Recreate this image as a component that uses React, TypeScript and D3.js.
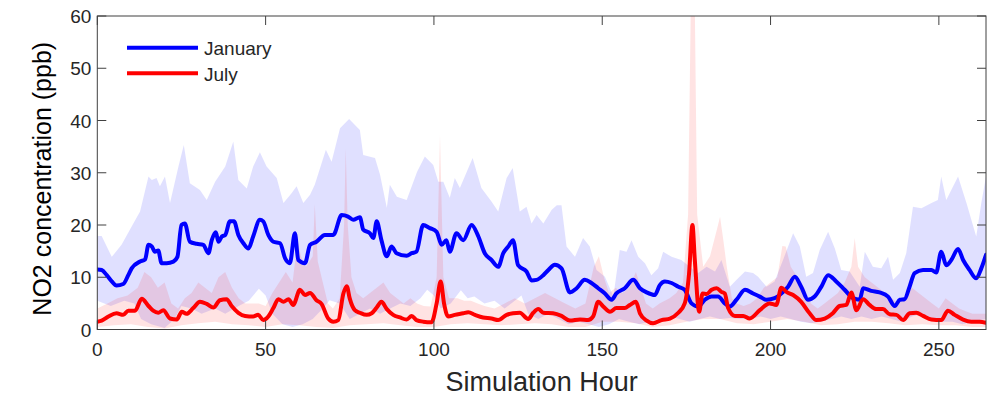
import React from "react";
import * as d3 from "d3";

type P = [number, number];

// [hour, ppb]
const janMean: P[] = [[0,11.5],[1.3,11.4],[2.8,10.4],[4.3,9.2],[5.7,8.4],[7.7,8.7],[9.2,10.4],[10.2,11.7],[12.7,13.0],[14.2,13.4],[15.2,16.2],[16.2,15.9],[17.1,14.9],[18.1,15.1],[19.1,12.7],[20.6,12.7],[22.6,13.0],[23.8,13.9],[25,20.0],[26,20.3],[27.5,16.8],[29.5,16.4],[31.5,16.2],[33,14.6],[34,17.1],[35.2,18.6],[36,16.8],[37,17.8],[38,18.1],[39.4,20.7],[40.6,20.7],[41.9,18.1],[43.4,16.5],[44.9,15.5],[46.3,17.8],[48.3,21.0],[49.3,20.7],[50.8,18.1],[52.3,16.8],[54.3,16.5],[55.8,13.6],[57.2,12.7],[58.7,18.4],[59.7,13.3],[61.7,12.7],[63.2,16.2],[65.1,16.8],[67.6,18.1],[70.1,18.1],[72.6,21.9],[74.5,21.6],[76,21.0],[78,21.5],[79,19.1],[81,18.4],[82,17.5],[83,20.7],[84.4,17.1],[86,14.0],[87.4,15.9],[88.9,14.6],[91.9,14.1],[93.4,14.6],[94.8,14.9],[96.8,20.0],[98.8,19.4],[100.8,18.7],[102.3,16.2],[103.7,17.1],[104.7,14.9],[106.7,18.4],[108.7,17.1],[111.2,20.0],[113.2,17.8],[115.1,14.6],[117.1,13.3],[119.1,12.0],[120.6,14.6],[122.1,15.9],[123.5,17.1],[125,12.3],[127.5,11.1],[129,9.4],[130.5,9.5],[132.5,10.4],[134,11.4],[135.9,12.4],[137.9,11.7],[140.4,7.1],[142.4,7.9],[144.8,9.5],[146.8,8.9],[148.8,7.9],[150.8,6.9],[152.8,5.7],[154.2,6.9],[156.7,7.9],[159.2,9.5],[161.2,7.9],[163.2,7.1],[165.6,6.6],[167.1,8.5],[168.6,9.2],[170.6,8.9],[172.6,8.2],[174.5,7.6],[176.5,5.0],[178.5,4.4],[180.5,5.7],[182.5,6.3],[184.4,6.3],[186.4,5.0],[187.9,4.4],[189.9,5.7],[192.4,7.6],[194.8,6.9],[196.8,6.3],[198.8,5.7],[201.2,6.0],[203.2,6.9],[205.2,8.2],[207.2,10.1],[209.1,8.2],[211.1,5.7],[213.1,6.3],[215.1,8.2],[217.1,10.4],[219.5,9.2],[222,7.6],[224.5,6.0],[226.5,5.7],[227.5,7.9],[229.9,7.4],[232.4,7.1],[234.9,6.3],[236.9,4.5],[238.4,5.7],[239.8,5.8],[241.3,8.2],[242.8,10.8],[245.3,11.4],[247.8,11.4],[249.2,10.9],[250.7,14.9],[252.2,12.3],[253.7,13.3],[255.7,15.4],[257.2,13.3],[259.1,11.4],[261.1,9.8],[262.6,11.7],[264,14.3]];

const julMean: P[] = [[0,1.5],[1.3,1.7],[3.3,2.5],[5.7,3.1],[7.7,2.8],[9.2,3.6],[11.2,3.6],[13.2,5.9],[15.2,4.5],[16.6,3.6],[18.1,3.2],[19.6,3.7],[21.6,2.1],[23.6,1.9],[25.1,3.4],[26.5,3.0],[28.5,4.1],[30.5,5.3],[32.5,4.9],[34.5,4.2],[36.4,5.6],[38.4,5.8],[39.9,4.5],[41.9,3.2],[43.9,2.6],[46.3,2.5],[47.8,2.8],[49.3,1.8],[50.8,2.5],[52.3,4.1],[53.8,5.8],[55.3,5.3],[56.8,5.8],[58.2,4.7],[60.2,7.6],[61.7,6.6],[63.2,7.0],[65.1,5.6],[66.6,4.9],[68.6,2.1],[70.1,1.5],[71.6,1.8],[73.1,6.9],[74.1,8.3],[75,5.9],[76.5,3.7],[78,3.2],[80,2.8],[81.5,3.1],[83,4.2],[84.4,5.3],[86,3.9],[87.9,2.8],[89.9,2.3],[91.9,1.9],[93.4,2.6],[94.8,1.8],[96.8,1.5],[99.3,1.4],[100.8,5.0],[102,9.2],[103,5.0],[104.2,2.5],[106.2,2.8],[108.7,3.1],[110.2,3.3],[112.2,2.8],[114.6,2.3],[117.1,2.1],[119.1,1.8],[121.6,2.8],[123.5,3.1],[125.5,3.2],[128,2.0],[129.5,3.2],[131,3.9],[132.5,3.2],[135.4,3.1],[137.9,2.6],[140.4,1.7],[143.4,1.9],[145.8,1.8],[147.3,2.5],[148.8,5.3],[150.3,4.4],[152.3,3.4],[154.2,4.1],[156.7,4.1],[158.2,4.7],[160,5.3],[161.2,3.1],[163.2,1.7],[165.1,1.2],[167.6,1.8],[170.1,2.1],[172.6,3.2],[174.5,5.0],[175.8,10.8],[176.8,20.0],[177.5,13.3],[178.8,3.4],[179.8,6.9],[181,6.8],[182.5,7.6],[184,7.9],[185.4,7.2],[186.4,6.9],[187.4,4.1],[189.4,2.6],[191.9,2.6],[193.8,2.1],[196.8,3.7],[199.7,5.0],[201.7,4.7],[203.2,8.0],[204.7,7.2],[206.7,6.6],[209.1,5.3],[211.6,3.1],[213.6,1.8],[216.1,2.1],[218.5,3.1],[220.5,4.5],[222.5,4.7],[224,7.1],[225.5,3.7],[227.5,5.8],[229.4,4.7],[231.4,3.9],[233.4,3.9],[235.4,2.9],[237.4,2.8],[239.4,1.8],[241.3,3.1],[243.3,3.2],[245.3,2.6],[247.8,1.9],[250.7,1.8],[252.7,3.6],[254.7,2.8],[257.2,1.9],[259.6,1.5],[262.1,1.5],[264,1.3]];

const janHigh: P[] = [[0,17.9],[1.3,17.9],[4.3,13.9],[7.2,16.2],[10.7,20.3],[12.7,22.6],[15.2,29.3],[16.2,28.6],[17.6,29.0],[18.6,27.4],[20.1,29.3],[21.6,24.2],[24.1,31.2],[25.7,35.3],[27.5,28.0],[30.5,26.7],[32.5,24.8],[35,28.3],[38,31.2],[40.4,36.0],[41.9,28.6],[44.4,27.0],[46.3,31.2],[48.3,33.9],[50.3,31.2],[53.3,29.0],[55.3,24.2],[57.7,26.1],[59.2,27.4],[61.2,24.2],[63.2,25.8],[64.6,27.7],[67.9,34.4],[69.6,32.1],[72.1,38.5],[74.8,40.3],[78,38.2],[79,33.4],[82.5,32.8],[84,29.6],[86,23.3],[86.9,27.7],[89,25.4],[91.9,24.8],[95,30.2],[97.3,33.1],[99.8,31.5],[101.3,28.3],[102.8,28.3],[104.7,25.2],[106.2,29.0],[107.7,27.1],[111.5,32.8],[114.1,27.1],[117.1,24.5],[119.1,22.6],[121.6,29.0],[123.4,30.9],[125.5,22.6],[127.5,23.5],[129,20.3],[130.5,21.9],[132.5,20.3],[135,22.9],[136.5,23.8],[137.9,23.8],[139.4,15.9],[141.9,13.9],[144.3,17.5],[146.3,15.9],[148.3,11.4],[150.8,10.1],[153.3,6.3],[155.2,15.2],[157.2,14.9],[158.7,17.1],[160.7,13.9],[162.7,12.7],[164.6,10.4],[166.6,11.7],[168.1,14.9],[170.6,13.9],[173.5,13.3],[176,12.0],[178.5,10.8],[181,12.0],[183.5,11.1],[185.4,13.3],[187.9,8.2],[189.9,9.5],[192.4,11.1],[194.8,10.8],[196.3,10.1],[198.8,8.2],[201.2,9.2],[203.7,13.3],[206.7,18.4],[208.7,15.9],[210.6,10.1],[212.6,10.8],[214.6,15.2],[217.1,18.7],[219.1,15.5],[221,11.4],[223.5,11.1],[226.5,8.2],[228,14.9],[230.4,12.0],[232.9,11.7],[234.9,13.9],[236.4,9.5],[238.4,10.8],[240.3,14.6],[242.3,23.5],[244.8,23.2],[247.8,24.2],[249.7,24.8],[250.7,29.3],[252.2,24.8],[255.7,29.3],[258.2,24.2],[261.1,17.8],[262.6,24.2],[264,29.3]];

const janLow: P[] = [[0,5.5],[4,4.5],[8,5.5],[11,5],[13,2],[16,1],[20,0.3],[23,2],[25,4.5],[28,4],[31,3],[35,4],[38,3],[42,4.5],[45,5.5],[48,7.8],[50,6.5],[52,3],[55,1],[58,0.5],[61,1],[64,2],[67,4],[69,5.6],[72,5],[75,2],[78,3],[81,4],[84,3],[87,4],[90,5],[93,4.5],[96,6],[98,7.6],[100,6.5],[102,4],[105,5],[108,7.5],[110,6],[112,6.3],[115,5],[118,5.5],[121,4],[124,5.5],[126,6.5],[128,3],[131,2],[134,3],[137,2],[140,1],[143,1.5],[146,1],[149,0.5],[152,1],[155,2],[158,1.5],[161,1],[164,1.5],[167,2],[170,2.5],[173,2],[176,1.5],[179,2],[182,2.5],[185,2],[188,2.2],[191,2],[194,2],[197,2.5],[200,2],[203,2.5],[206,2],[209,1.5],[212,1.2],[215,1.5],[218,2],[221,2.5],[224,2],[227,2.5],[230,2],[233,2.5],[236,2],[239,1.5],[242,2.5],[245,3],[248,2],[251,1.5],[254,1.5],[257,1],[260,1.5],[264,2]];

const julHigh: P[] = [[0,4],[3,5],[6,6],[9,6.5],[12,8],[14,11],[16,10],[18,8],[20,9],[22,5],[24,4],[26,6],[28,7],[30,9],[32,8],[34,7],[36,10],[38,11],[40,8],[42,6],[44,5],[46,5],[48,5],[50,4.5],[52,7],[54,9],[56,11],[58,9],[59.5,17],[60.5,14],[62,12],[64,14],[64.6,24],[65.5,13],[67,9],[68.5,5],[70,4],[72,6],[73.3,20],[73.8,34.7],[74.4,20],[75.5,10],[77,7],[79,6],[81,7],[83,8],[85,9],[87,7],[89,6],[91,5],[93,6],[95,5],[97,4.5],[99,4.4],[100.8,10],[101.8,37.3],[102.8,10],[104.5,6],[107,6],[109,5.5],[111,5.5],[113,5],[115,4.5],[118,4],[121,5],[124,6],[127,5],[130,6],[133,7],[136,6],[139,5],[142,4],[145,5],[147.5,12],[149,14],[150.5,10],[152,7],[154,8],[156,7],[158,8],[160,11],[161.5,8],[163,5],[165,4],[167,5],[170,6],[172,7],[174,9],[175.5,22],[176.3,62],[176.9,80],[177.5,62],[178.2,22],[180,12],[182,14],[184,19],[185,21.6],[186,17],[187,12],[188.5,6],[190,5],[192,4.5],[194,5],[196,6],[198,8],[200,9],[202,10],[203.5,16],[204.5,15.9],[206,12],[208,10],[210,8],[212,5],[214,4],[216,5],[218,6],[220,7],[222,9],[224,12],[225,17.5],[226,12],[228,10],[230,9],[232,8],[234,7],[236,6],[238,5],[240,6],[242,8],[244,7],[246,6],[248,5],[250,4],[252,6],[254,5],[256,4],[258,3.5],[260,3],[262,3],[264,3]];

const julLow: P[] = [[0,0.5],[5,0.8],[10,1],[15,0.5],[20,0.2],[25,0.8],[30,1.2],[35,1.5],[40,1],[45,0.8],[50,0.5],[55,1],[60,0.8],[65,0.5],[70,0.3],[75,0.8],[80,1],[85,1.2],[90,0.8],[95,0.5],[100,0.5],[105,1],[110,1.2],[115,1],[120,0.8],[125,1],[130,1.2],[135,1],[140,0.5],[145,0.5],[150,1.5],[155,1.5],[160,1.2],[165,0.5],[170,0.8],[175,1.5],[180,2],[185,2],[190,1.2],[195,1],[200,1.5],[205,2],[210,1.5],[215,0.8],[220,1],[225,1.5],[230,1.5],[235,1.2],[240,0.8],[245,1],[250,0.8],[255,0.8],[260,0.5],[264,0.5]];

const xTicks = [0, 50, 100, 150, 200, 250];
const yTicks = [0, 10, 20, 30, 40, 50, 60];
const seriesNames = ["January", "July"];
const seriesColors = ["#0000ff", "#ff0000"];

const W = 994, H = 397;
const L = 97.3, R = 986, T = 16, B = 329.5;

export default function App() {
  const x = d3.scaleLinear().domain([0, 264]).range([L, R]);
  const y = d3.scaleLinear().domain([0, 60]).range([B, T]);
  const line = d3.line<P>().x(d => x(d[0])).y(d => y(d[1]));
  const smooth = d3.line<P>().x(d => x(d[0])).y(d => y(d[1])).curve(d3.curveMonotoneX);
  const band = (hi: P[], lo: P[]) => line([...hi, ...lo.slice().reverse()]) + "Z";
  const axisColor = "#404040";
  const font = "'Liberation Sans', Arial, Helvetica, sans-serif";
  const tick = 9;
  return (
    <svg width={W} height={H} style={{ position: "absolute", left: 0, top: 0, background: "#fff" }}>
      <defs>
        <clipPath id="plot"><rect x={L} y={T} width={R - L} height={B - T} /></clipPath>
      </defs>
      <rect x={0} y={0} width={W} height={H} fill="#fff" />
      <g clipPath="url(#plot)">
        <path d={band(janHigh, janLow)} fill="#0000ff" fillOpacity={0.12} />
        <path d={band(julHigh, julLow)} fill="#ff0000" fillOpacity={0.11} />
        <path d={smooth(janMean) || ""} fill="none" stroke={seriesColors[0]} strokeWidth={4} strokeLinejoin="round" strokeLinecap="round" />
        <path d={smooth(julMean) || ""} fill="none" stroke={seriesColors[1]} strokeWidth={4} strokeLinejoin="round" strokeLinecap="round" />
      </g>
      <rect x={L} y={T} width={R - L} height={B - T} fill="none" stroke={axisColor} strokeWidth={1} />
      {xTicks.map(t => (
        <g key={"x" + t}>
          <line x1={x(t)} x2={x(t)} y1={B} y2={B - tick} stroke={axisColor} />
          <line x1={x(t)} x2={x(t)} y1={T} y2={T + tick} stroke={axisColor} />
          <text x={x(t)} y={356} textAnchor="middle" fontFamily={font} fontSize={19} fill="#262626">{t}</text>
        </g>
      ))}
      {yTicks.map(t => (
        <g key={"y" + t}>
          <line x1={L} x2={L + tick} y1={y(t)} y2={y(t)} stroke={axisColor} />
          <line x1={R} x2={R - tick} y1={y(t)} y2={y(t)} stroke={axisColor} />
          <text x={L - 6} y={y(t) + 7} textAnchor="end" fontFamily={font} fontSize={19} fill="#262626">{t}</text>
        </g>
      ))}
      <text x={(L + R) / 2} y={391} textAnchor="middle" fontFamily={font} fontSize={27} fill="#262626">Simulation Hour</text>
      <text transform={`translate(51,${(T + B) / 2 + 6}) rotate(-90)`} textAnchor="middle" fontFamily={font} fontSize={25} fill="#000">NO2 concentration (ppb)</text>
      {seriesNames.map((n, i) => (
        <g key={n}>
          <line x1={127} x2={198} y1={47.7 + i * 25.6} y2={47.7 + i * 25.6} stroke={seriesColors[i]} strokeWidth={4} />
          <text x={204} y={55 + i * 25.6} fontFamily={font} fontSize={19} fill="#262626">{n}</text>
        </g>
      ))}
    </svg>
  );
}
